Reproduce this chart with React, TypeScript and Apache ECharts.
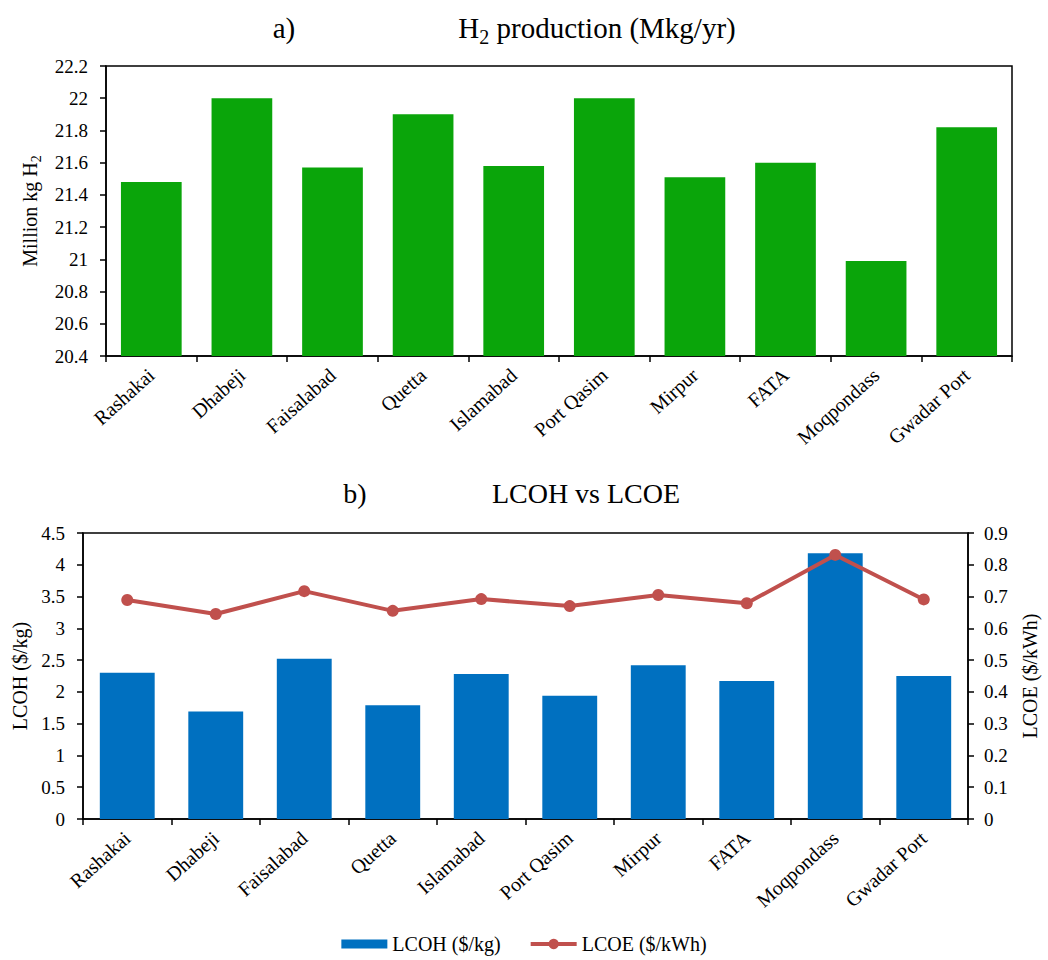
import React, { useEffect, useRef } from "react";
import * as echarts from "echarts";

// Sites shared by both panels
const categories = [
  "Rashakai",
  "Dhabeji",
  "Faisalabad",
  "Quetta",
  "Islamabad",
  "Port Qasim",
  "Mirpur",
  "FATA",
  "Moqpondass",
  "Gwadar Port",
];

// a) Hydrogen production, million kg per year
const h2Production = [21.48, 22.0, 21.57, 21.9, 21.58, 22.0, 21.51, 21.6, 20.99, 21.82];

// b) Levelized cost of hydrogen ($/kg) and of electricity ($/kWh)
const lcoh = [2.3, 1.69, 2.52, 1.79, 2.28, 1.94, 2.42, 2.17, 4.18, 2.25];
const lcoe = [0.689, 0.645, 0.717, 0.655, 0.692, 0.67, 0.705, 0.679, 0.831, 0.691];

const FONT = '"Liberation Serif", "Times New Roman", serif';
const GREEN = "#0AA50A";
const BLUE = "#0070C0";
const RED = "#C0504D";

const trim = (v: number) => String(+v.toFixed(2));

const subRich = (size: number) => ({
  m: { fontFamily: FONT, fontSize: size, lineHeight: size + 8, color: "#000" },
  s: {
    fontFamily: FONT,
    fontSize: Math.round(size * 0.68),
    lineHeight: Math.round(size * 0.68),
    verticalAlign: "bottom",
    color: "#000",
  },
});

const tickLabel = { fontFamily: FONT, fontSize: 19, color: "#000" };

export default function App() {
  const ref = useRef<HTMLDivElement>(null);

  useEffect(() => {
    if (!ref.current) return;
    const chart = echarts.init(ref.current, undefined, { renderer: "svg" });

    const catAxis = (gridIndex: number) => ({
      type: "category",
      gridIndex,
      data: categories,
      axisLine: { show: true, lineStyle: { color: "#000", width: 1.5 } },
      axisTick: { show: true, length: 6, lineStyle: { color: "#000", width: 1.5 } },
      axisLabel: { ...tickLabel, fontSize: 20, rotate: 42, margin: 16 },
    });

    const valAxis = (extra: any) => ({
      type: "value",
      axisLine: { show: true, lineStyle: { color: "#000", width: 1.5 } },
      axisTick: { show: true, length: 6, lineStyle: { color: "#000", width: 1.5 } },
      splitLine: { show: false },
      axisLabel: { ...tickLabel, formatter: (v: number) => trim(v), margin: 18 },
      nameLocation: "middle",
      ...extra,
    });

    const titleText = (x: number, y: number, text: string, size: number) => ({
      type: "text",
      x,
      y,
      style: {
        text,
        fontFamily: FONT,
        fontSize: size,
        fill: "#000",
        align: "center",
        verticalAlign: "middle",
      },
    });

    chart.setOption({
      animation: false,
      backgroundColor: "#fff",
      textStyle: { fontFamily: FONT },
      grid: [
        {
          left: 106,
          right: 36,
          top: 66,
          height: 290,
          show: true,
          borderColor: "#000",
          borderWidth: 1.5,
        },
        {
          left: 83,
          right: 80,
          top: 533,
          height: 286,
          show: true,
          borderColor: "#000",
          borderWidth: 1.5,
        },
      ],
      graphic: [
        titleText(284, 28, "a)", 29),
        {
          type: "text",
          x: 597,
          y: 28,
          style: {
            text: "{m|H}{s|2}{m| production (Mkg/yr)}",
            rich: subRich(29),
            align: "center",
            verticalAlign: "middle",
          },
        },
        titleText(355, 493, "b)", 28),
        titleText(586, 493, "LCOH vs LCOE", 28),
      ],
      legend: {
        top: 929,
        left: "center",
        itemWidth: 46,
        itemHeight: 13,
        itemGap: 28,
        symbolKeepAspect: true,
        lineStyle: { width: 4 },
        data: [
          { name: "LCOH ($/kg)", icon: "path://M0 0H46V9H0Z" },
          { name: "LCOE ($/kWh)" },
        ],
        textStyle: { fontFamily: FONT, fontSize: 20, color: "#000" },
      },
      xAxis: [catAxis(0), catAxis(1)],
      yAxis: [
        valAxis({
          gridIndex: 0,
          min: 20.4,
          max: 22.2,
          interval: 0.2,
          name: "{m|Million kg H}{s|2}",
          nameGap: 59,
          nameTextStyle: { rich: subRich(20) },
        }),
        valAxis({
          gridIndex: 1,
          min: 0,
          max: 4.5,
          interval: 0.5,
          name: "LCOH ($/kg)",
          nameGap: 50,
          nameTextStyle: { fontFamily: FONT, fontSize: 20, color: "#000" },
        }),
        valAxis({
          gridIndex: 1,
          position: "right",
          min: 0,
          max: 0.9,
          interval: 0.1,
          name: "LCOE ($/kWh)",
          nameGap: 52,
          nameTextStyle: { fontFamily: FONT, fontSize: 20, color: "#000" },
          axisLabel: { ...tickLabel, formatter: (v: number) => trim(v), margin: 16 },
        }),
      ],
      series: [
        {
          name: "H2 production",
          type: "bar",
          xAxisIndex: 0,
          yAxisIndex: 0,
          data: h2Production,
          barWidth: "67%",
          itemStyle: { color: GREEN },
          clip: true,
        },
        {
          name: "LCOH ($/kg)",
          type: "bar",
          xAxisIndex: 1,
          yAxisIndex: 1,
          data: lcoh,
          barWidth: "62%",
          itemStyle: { color: BLUE },
        },
        {
          name: "LCOE ($/kWh)",
          type: "line",
          xAxisIndex: 1,
          yAxisIndex: 2,
          data: lcoe,
          symbol: "circle",
          symbolSize: 12,
          lineStyle: { color: RED, width: 4 },
          itemStyle: { color: RED },
          z: 5,
        },
      ],
    });

    return () => chart.dispose();
  }, []);

  return (
    <div
      ref={ref}
      style={{ position: "absolute", left: 0, top: 0, width: 1048, height: 960 }}
    />
  );
}
